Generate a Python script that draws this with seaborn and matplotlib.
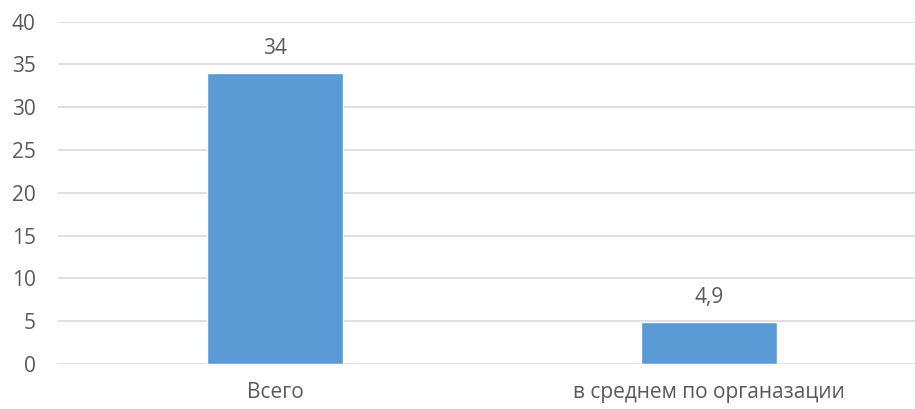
import pandas as pd
import matplotlib.pyplot as plt
import seaborn as sns

# Values
categories = ['Всего', 'в среднем по органазации']
values = [34, 4.9]
value_labels = ['34', '4,9']

df = pd.DataFrame({'category': categories, 'value': values})

sns.set_style('white')
plt.rcParams['font.family'] = ['Open Sans', 'DejaVu Sans']
text_color = '#595959'
fs = 15

fig = plt.figure(figsize=(9.15, 4.09), dpi=100)
ax = fig.add_axes([58 / 915, 45 / 409, (915 - 58) / 915, 342.5 / 409])

sns.barplot(x='category', y='value', data=df, color='#5B9BD5', width=0.313,
            saturation=1, ax=ax, zorder=3)

ax.set_xlim(-0.5, 1.4747)
ax.set_ylim(0, 40)
ax.set_yticks(range(0, 41, 5))
ax.yaxis.grid(True, color='#D9D9D9', linewidth=1.2, zorder=0)
ax.xaxis.grid(False)
for s in ax.spines.values():
    s.set_visible(False)

ax.set_xlabel('')
ax.set_ylabel('')
ax.tick_params(axis='y', length=0, pad=16, labelsize=fs, labelcolor=text_color)
ax.tick_params(axis='x', length=0, pad=13, labelsize=fs, labelcolor=text_color)

for i, (v, lab) in enumerate(zip(values, value_labels)):
    ax.annotate(lab, (i, v), xytext=(0, 10), textcoords='offset points',
                ha='center', va='bottom', fontsize=fs, color=text_color)

fig.savefig('out.png', dpi=100)
